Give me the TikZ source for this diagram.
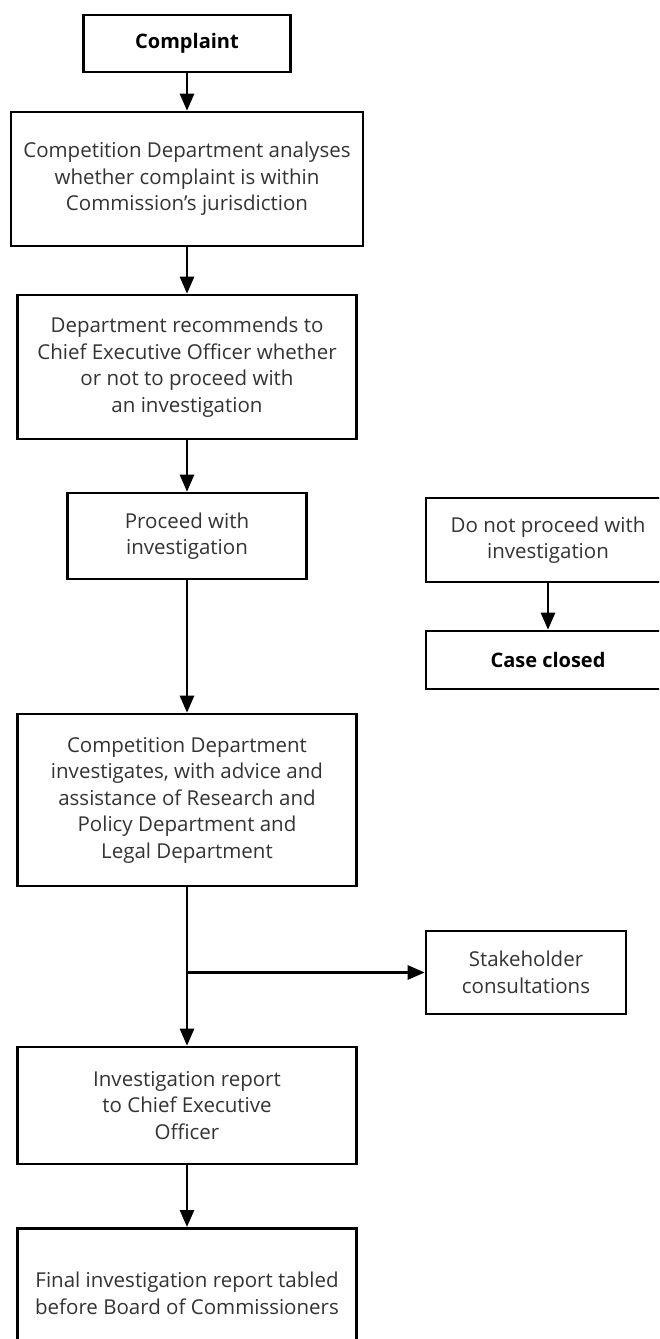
\documentclass[tikz,border=0pt]{standalone}
\usepackage{fontspec}
\setmainfont{Open Sans}
\usetikzlibrary{arrows.meta}
\begin{document}
\begin{tikzpicture}[x=1pt,y=-1pt,
  box/.style={draw, line width=2.6pt, align=center, inner sep=0pt,
    font=\fontsize{20.5}{26.5}\selectfont, text=black!80},
  boldbox/.style={box, font=\fontsize{20}{27}\selectfont\bfseries, text=black},
  arr/.style={line width=2.6pt, -{Triangle[length=17pt,width=14pt]}}]
\useasboundingbox (0,0) rectangle (659,1339);
\clip (0,0) rectangle (659,1339);
\node[boldbox, minimum width=207pt, minimum height=57pt] (complaint) at (187,43.5) {Complaint};
\node[box, minimum width=352pt, minimum height=134pt] (analyse) at (187,179) {Competition Department analyses\\whether complaint is within\\Commission’s jurisdiction};
\node[box, minimum width=339pt, minimum height=144pt] (recommend) at (187,367) {Department recommends to\\Chief Executive Officer whether\\or not to proceed with\\an investigation};
\node[box, minimum width=239pt, minimum height=86pt] (proceed) at (187,536) {Proceed with\\investigation};
\node[box, minimum width=244pt, minimum height=84pt] (notproceed) at (548,540) {Do not proceed with\\investigation};
\node[boldbox, minimum width=244pt, minimum height=58pt] (closed) at (548,660) {Case closed};
\node[box, minimum width=339pt, minimum height=172pt] (investigates) at (187,800) {Competition Department\\investigates, with advice and\\assistance of Research and\\Policy Department and\\Legal Department};
\node[box, minimum width=200pt, minimum height=83pt] (stake) at (526,972.5) {Stakeholder\\consultations};
\node[box, minimum width=339pt, minimum height=117pt] (report) at (187,1105.5) {Investigation report\\to Chief Executive\\Officer};
\node[box, minimum width=339pt, minimum height=130pt, anchor=north] (final) at (187,1227) {Final investigation report tabled\\before Board of Commissioners};
\draw[arr] (complaint) -- (analyse);
\draw[arr] (analyse) -- (recommend);
\draw[arr] (recommend) -- (proceed);
\draw[arr] (proceed) -- (investigates);
\draw[arr] (notproceed) -- (closed);
\draw[arr] (investigates) -- (report);
\coordinate (branch) at (stake.west -| investigates.south);
\draw[arr] (branch) -- (stake.west);
\draw[arr] (report) -- (final);
\end{tikzpicture}
\end{document}
